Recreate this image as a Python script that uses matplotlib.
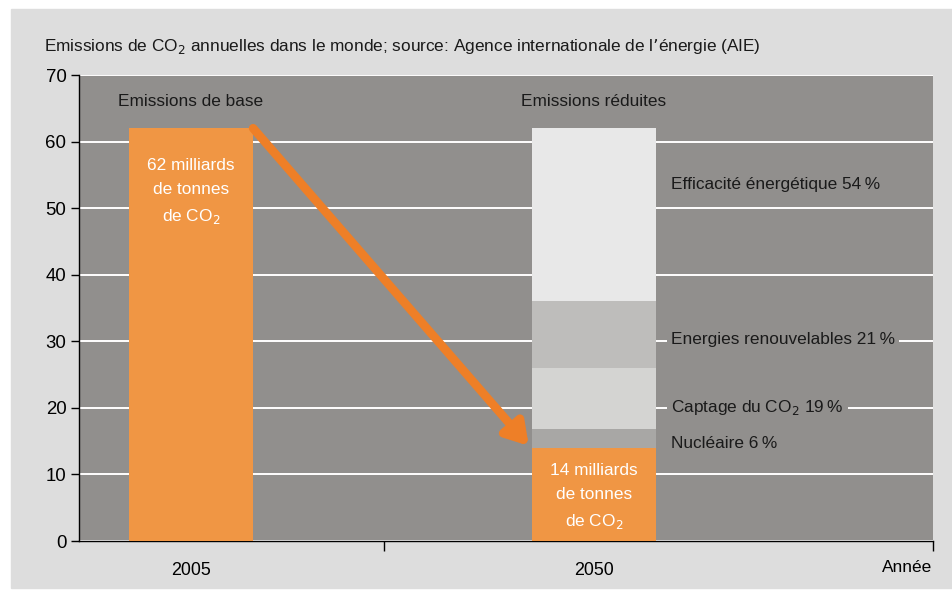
import numpy as np
import matplotlib.pyplot as plt
from matplotlib.patches import Rectangle
from matplotlib import font_manager

# fonts: the original uses a condensed sans
names = {f.name for f in font_manager.fontManager.ttflist}
narrow = 'Liberation Sans Narrow' if 'Liberation Sans Narrow' in names else 'Liberation Sans'
plt.rcParams['font.family'] = [narrow, 'DejaVu Sans']

# data
years = ['2005', '2050']
base_total = 62
reduced_total = 14
# share of the 48 Gt reduction, bottom to top
lever_names = ['Nucléaire', 'Captage du CO$_2$', 'Energies renouvelables', 'Efficacité énergétique']
lever_pct = [6, 19, 21, 54]
lever_labels = ['Nucléaire 6\u2009%', 'Captage du CO$_2$ 19\u2009%',
                'Energies renouvelables 21\u2009%', 'Efficacité énergétique 54\u2009%']
lever_colors = ['#a8a7a5', '#d4d4d2', '#bebdbb', '#e8e8e8']
label_y = [14.7, 20.1, 30.2, 53.6]

orange = '#f09644'
arrow_col = '#ee7f27'
bg = '#918f8d'
panel = '#dddddd'
fs = 12.4

fig = plt.figure(figsize=(9.53, 5.9), dpi=100)
fig.patches.append(Rectangle((11 / 953, 0.0034), 1, 1 - 9 / 590 - 0.0034,
                             transform=fig.transFigure, color=panel, zorder=-5))
ax = fig.add_axes([79 / 953, 1 - 541 / 590, 854 / 953, 466 / 590])
ax.set_facecolor(bg)

x = np.arange(len(years))
w = 0.308
ax.bar(x[0], base_total, w, color=orange, zorder=3)
ax.bar(x[1], reduced_total, w, color=orange, zorder=3)

reduction = base_total - reduced_total
bottom = reduced_total
for pct, col in zip(lever_pct, lever_colors):
    h = reduction * pct / 100
    ax.bar(x[1], h, w, bottom=bottom, color=col, zorder=3)
    bottom += h

for lab, yy in zip(lever_labels, label_y):
    ax.text(x[1] + w / 2 + 0.037, yy, lab, fontsize=fs, color='#1a1a1a',
            va='center', ha='left', zorder=4,
            bbox=dict(facecolor=bg, edgecolor='none', pad=3))

# bar texts
ax.text(x[0], 52.4, f'{base_total} milliards\nde tonnes\nde CO$_2$', color='white',
        fontsize=fs, ha='center', va='center', linespacing=1.75, zorder=4)
ax.text(x[1], 6.6, f'{reduced_total} milliards\nde tonnes\nde CO$_2$', color='white',
        fontsize=fs, ha='center', va='center', linespacing=1.7, zorder=4)
ax.text(x[0], 66, 'Emissions de base', fontsize=fs, ha='center', va='center', color='#1a1a1a')
ax.text(x[1], 66, 'Emissions réduites', fontsize=fs, ha='center', va='center', color='#1a1a1a')

# arrow from base bar top to reduced bar top
ax.annotate('', xy=(x[1] - w / 2 - 0.008, reduced_total + 0.3),
            xytext=(x[0] + w / 2, base_total),
            arrowprops=dict(arrowstyle='-|>,head_length=1.3,head_width=0.8',
                            color=arrow_col, lw=6.2, shrinkA=0, shrinkB=0),
            zorder=5)

ax.set_xlim(-0.278, 1.841)
ax.set_ylim(0, 70)
ax.set_yticks(np.arange(0, 71, 10))
ax.yaxis.grid(True, color='white', lw=1.4, zorder=1)
ax.set_axisbelow(True)

ax.set_xticks(x)
ax.set_xticklabels(years)
ax.set_xticks([0.479, 1.841], minor=True)
ax.tick_params(axis='x', which='major', length=0, pad=15, labelsize=fs + 0.5)
ax.tick_params(axis='x', which='minor', length=7, width=1)
ax.tick_params(axis='y', length=6, width=1, labelsize=fs + 1, pad=3)
for s in ['top', 'right']:
    ax.spines[s].set_visible(False)
ax.spines['left'].set_linewidth(1)
ax.spines['bottom'].set_linewidth(1)
ax.text(1.776, -4.0, 'Année', fontsize=fs, ha='center', va='center')

fig.text(44 / 953, 1 - 47 / 590,
         'Emissions de CO$_2$ annuelles dans le monde; source: Agence internationale de l\u2019énergie (AIE)',
         fontsize=fs, ha='left', va='center', color='#1a1a1a')

fig.savefig('out.png', dpi=100)
